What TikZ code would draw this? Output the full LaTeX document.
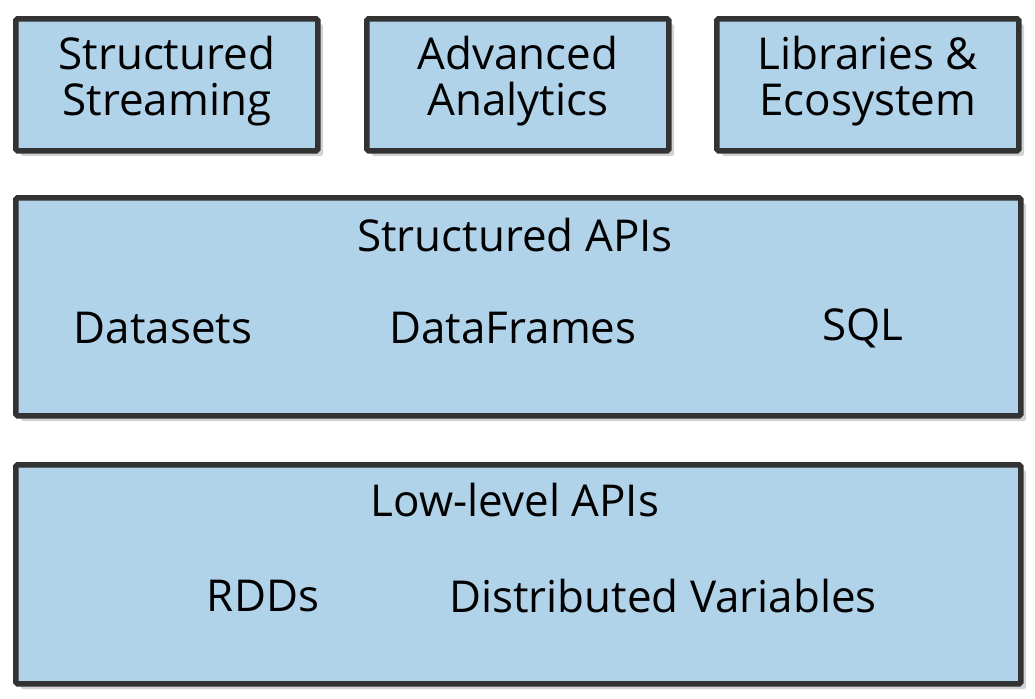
\documentclass[tikz,border=0pt]{standalone}
\usepackage{fontspec}
\setmainfont{Open Sans}
\usetikzlibrary{positioning,shadows}
\definecolor{boxblue}{HTML}{B0D3EA}
\definecolor{boxline}{HTML}{333333}
\tikzset{
  layer/.style={draw=boxline, line width=3.2pt, fill=boxblue, rounded corners=1pt,
    drop shadow={opacity=0.35, shadow xshift=3pt, shadow yshift=-3pt},
    inner sep=0pt, anchor=north west},
  lbl/.style={font=\fontsize{25}{26}\selectfont, align=center, text=black}
}

\begin{document}
\begin{tikzpicture}[x=0.02cm, y=-0.02cm]
\useasboundingbox (0,0) rectangle (1035,698);

% top row
\node[layer, minimum width=302*0.02cm, minimum height=132*0.02cm] (stream) at (13,16) {};
\node[layer, minimum width=302*0.02cm, minimum height=132*0.02cm] (adv) at (364,16) {};
\node[layer, minimum width=302*0.02cm, minimum height=132*0.02cm] (libs) at (714,16) {};

% structured and low level layers
\node[layer, minimum width=1005*0.02cm, minimum height=218*0.02cm] (struct) at (13,195) {};
\node[layer, minimum width=1005*0.02cm, minimum height=219*0.02cm] (low) at (13,462) {};

\node[lbl] at ([yshift=0.08cm]stream.center) {Structured\\Streaming};
\node[lbl] at ([yshift=0.08cm]adv.center) {Advanced\\Analytics};
\node[lbl] at ([yshift=0.08cm]libs.center) {Libraries \&\\Ecosystem};

\node[lbl] (structt) at (515,235) {Structured APIs};
\node[lbl] (ds) at (163,328) {Datasets};
\node[lbl] (df) at (513,328) {DataFrames};
\node[lbl] (sql) at (863,328) {SQL};

\node[lbl] (lowt) at (515,500) {Low-level APIs};
\node[lbl] (rdd) at (263,596) {RDDs};
\node[lbl] (dv) at (663,596) {Distributed Variables};
\end{tikzpicture}
\end{document}
